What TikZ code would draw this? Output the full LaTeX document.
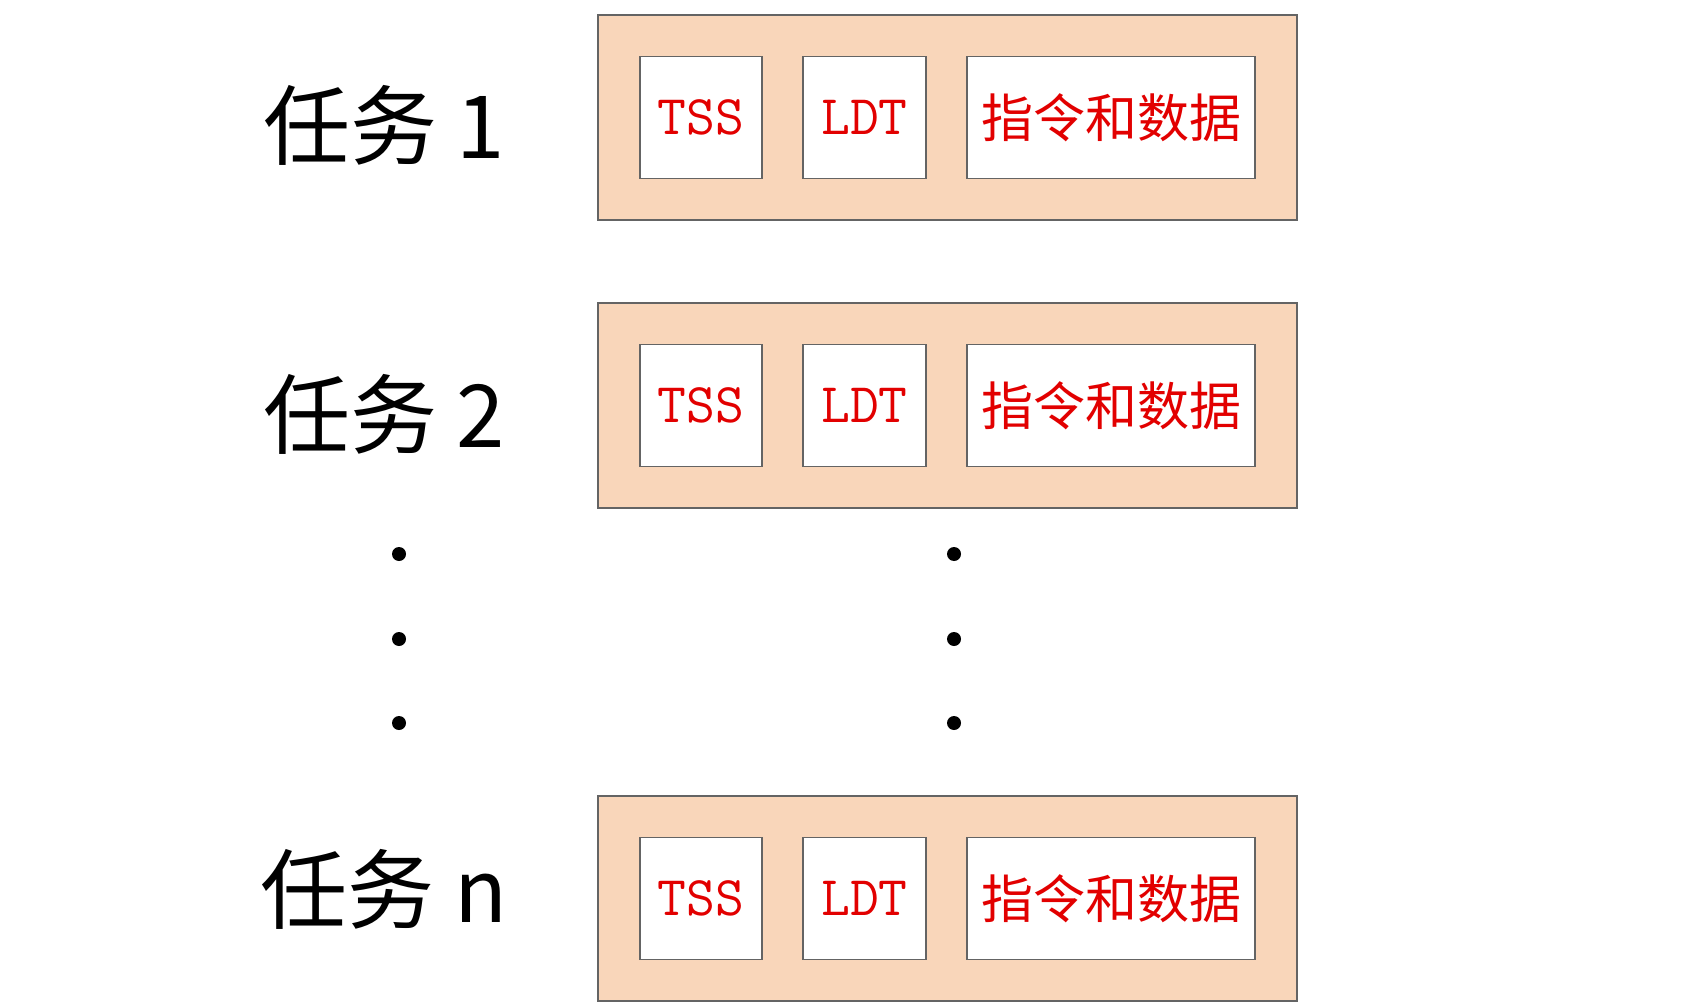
\documentclass[tikz,border=0pt]{standalone}
\usepackage{fontspec}
\newfontfamily\cjk{Noto Sans CJK SC}
\definecolor{peach}{RGB}{249,214,186}
\definecolor{tred}{RGB}{226,0,0}
\definecolor{edge}{RGB}{100,100,100}
\begin{document}
\begin{tikzpicture}[x=1pt,y=-1pt,
  outerbox/.style={draw=edge,fill=peach,line width=1.2pt,minimum width=699pt,minimum height=205pt,inner sep=0pt},
  innerbox/.style={draw=edge,fill=white,line width=1.2pt,minimum height=122pt,inner sep=0pt,text=tred},
  monotext/.style={font=\ttfamily\fontsize{56}{56}\selectfont},
  cjktext/.style={font=\cjk\fontsize{52}{52}\selectfont},
  tasklabel/.style={font=\cjk\fontsize{87}{87}\selectfont,inner sep=0pt},
  dotmark/.style={circle,fill=black,minimum size=14pt,inner sep=0pt}]
\useasboundingbox (0,0) rectangle (1683,1008);
\fill[white] (0,0) rectangle (1683,1008);
\foreach \y/\ly/\n/\lab in {117.5/125.6/a/1, 405.5/414/b/2, 898.5/889/c/n}{
  \node[outerbox] (outer\n) at (947.5,\y) {};
  \node[innerbox,minimum width=122pt,monotext] (tss\n) at (701,\y) {TSS};
  \node[innerbox,minimum width=123pt,monotext] (ldt\n) at (864.5,\y) {LDT};
  \node[innerbox,minimum width=288pt,cjktext] (data\n) at (1111,\y) {指令和数据};
  \node[tasklabel] (label\n) at (384,\ly) {任务 \lab};
}
\foreach \y/\i in {554/1,639/2,723/3}{
  \node[dotmark] (ldot\i) at (399,\y) {};
  \node[dotmark] (rdot\i) at (954,\y) {};
}
\end{tikzpicture}
\end{document}
